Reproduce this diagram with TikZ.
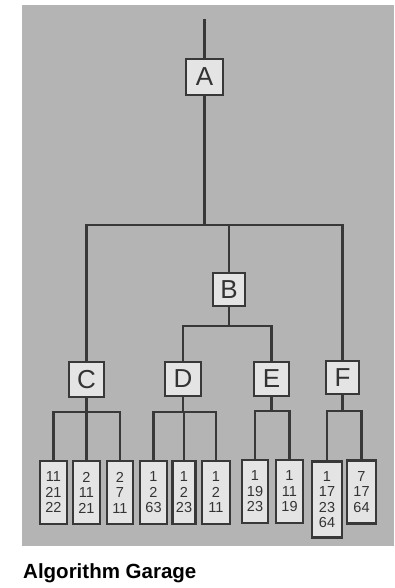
\documentclass[tikz,border=0pt]{standalone}
\usepackage{fontspec}
\setmainfont{Liberation Sans}
\begin{document}
\begin{tikzpicture}[x=1pt,y=-1pt,
  conn/.style={draw=linec,line width=2.3pt},
  letterbox/.style={draw=linec,line width=2.7pt,fill=boxfill,inner sep=0pt,
    font=\fontsize{26}{26}\selectfont,text=textc},
  leafbox/.style={draw=linec,line width=2.7pt,fill=boxfill,inner sep=0pt,
    font=\fontsize{14.5}{15.5}\selectfont,text=textc,align=center}]
\definecolor{panel}{HTML}{B4B4B4}
\definecolor{boxfill}{HTML}{E4E4E4}
\definecolor{linec}{HTML}{383838}
\definecolor{textc}{HTML}{333333}
\useasboundingbox (0,0) rectangle (394,588);
\fill[white] (0,0) rectangle (394,588);
\fill[panel] (22,5) rectangle (394,546);
% letter nodes
\node[letterbox,minimum width=37pt,minimum height=36pt] (A) at (204.5,77) {A};
\node[letterbox,minimum width=32pt,minimum height=33pt] (B) at (229,289.5) {B};
\node[letterbox,minimum width=35pt,minimum height=35pt] (C) at (86.5,379.5) {C};
\node[letterbox,minimum width=36pt,minimum height=34pt] (D) at (183,379) {D};
\node[letterbox,minimum width=35pt,minimum height=34pt] (E) at (271.5,379) {E};
\node[letterbox,minimum width=33pt,minimum height=33pt] (F) at (342.5,377.5) {F};
% leaves
\node[leafbox,minimum width=27pt,minimum height=63pt] (l1) at (53.5,492.5) {11\\21\\22};
\node[leafbox,minimum width=27pt,minimum height=63pt] (l2) at (86.5,492.5) {2\\11\\21};
\node[leafbox,minimum width=26pt,minimum height=63pt] (l3) at (120,492.5) {2\\7\\11};
\node[leafbox,minimum width=27pt,minimum height=63pt] (l4) at (153.5,492.5) {1\\2\\63};
\node[leafbox,minimum width=23pt,minimum height=63pt] (l5) at (184,492.5) {1\\2\\23};
\node[leafbox,minimum width=28pt,minimum height=63pt] (l6) at (216,492.5) {1\\2\\11};
\node[leafbox,minimum width=26pt,minimum height=63pt] (l7) at (255,491.5) {1\\19\\23};
\node[leafbox,minimum width=27pt,minimum height=63pt] (l8) at (289.5,491.5) {1\\11\\19};
\node[leafbox,minimum width=30pt,minimum height=76pt,anchor=north] (l9) at (327,460) {1\\17\\23\\64};
\node[leafbox,minimum width=29pt,minimum height=63pt,anchor=north] (l10) at (361.5,459) {7\\17\\64};
% junction levels
\coordinate (top) at (204.5,19);
\coordinate (hA) at (0,225);
\coordinate (hB) at (0,326);
\coordinate (hC) at (0,412);
\coordinate (hE) at (0,411);
% connectors
\draw[conn] (top) -- (A.north);
\draw[conn] (A.south) -- (A.south |- hA);
\draw[conn] (C.north) |- (hA -| F.north) -- (F.north);
\draw[conn] (B.north) -- (B.north |- hA);
\draw[conn] (B.south) -- (B.south |- hB);
\draw[conn] (D.north) |- (hB -| E.north) -- (E.north);
\draw[conn] (C.south) -- (l2.north);
\draw[conn] (l1.north) |- (hC -| l3.north) -- (l3.north);
\draw[conn] (D.south) -- (D.south |- hC);
\draw[conn] (l4.north) |- (hC -| l6.north) -- (l6.north);
\draw[conn] (l5.north) -- (l5.north |- hC);
\draw[conn] (E.south) -- (E.south |- hE);
\draw[conn] (l7.north) |- (hE -| l8.north) -- (l8.north);
\draw[conn] (F.south) -- (F.south |- hE);
\draw[conn] (l9.north) |- (hE -| l10.north) -- (l10.north);
% caption
\node[anchor=base west,inner sep=0pt,font=\fontsize{20.5}{20.5}\selectfont\bfseries,text=black] (cap) at (23,578) {Algorithm Garage};
\end{tikzpicture}
\end{document}
